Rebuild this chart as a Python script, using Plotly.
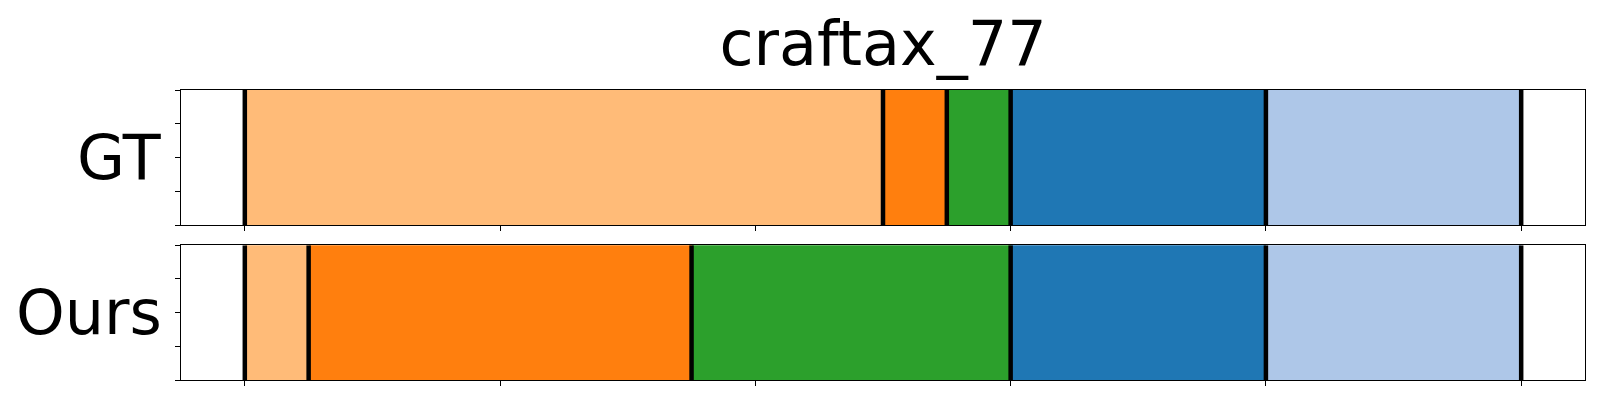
import plotly.graph_objects as go
from plotly.subplots import make_subplots

title_text = "craftax_77"
row_labels = ["GT", "Ours"]
segment_colors = ["#ffbb78", "#ff7f0e", "#2ca02c", "#1f77b4", "#aec7e8"]
gt_bounds = [0, 250, 275, 300, 400, 500]
ours_bounds = [0, 25, 175, 300, 400, 500]
x_ticks = [0, 100, 200, 300, 400, 500]
y_ticks = [0, 0.25, 0.5, 0.75, 1.0]

fig = make_subplots(rows=2, cols=1, vertical_spacing=0.0)

for row, bounds in enumerate([gt_bounds, ours_bounds], start=1):
    for i in range(len(bounds) - 1):
        fig.add_trace(go.Bar(
            orientation="h", y=[0.5], x=[bounds[i + 1] - bounds[i]], base=[bounds[i]],
            width=[1.0], marker=dict(color=segment_colors[i], line=dict(width=0)),
            showlegend=False, hoverinfo="skip"), row=row, col=1)
    lx, ly = [], []
    for b in bounds:
        lx += [b, b, None]
        ly += [0, 1, None]
    fig.add_trace(go.Scatter(x=lx, y=ly, mode="lines", line=dict(color="black", width=4.5),
                             showlegend=False, hoverinfo="skip"), row=row, col=1)

axis_common = dict(showline=True, linecolor="black", linewidth=1, mirror=True,
                   ticks="outside", ticklen=5, tickwidth=1, tickcolor="black",
                   showticklabels=False, showgrid=False, zeroline=False)

fig.update_xaxes(range=[-25, 525], tickvals=x_ticks, **axis_common)
fig.update_yaxes(range=[0, 1], tickvals=y_ticks, **axis_common)

fig.update_layout(
    xaxis=dict(domain=[0, 1]), xaxis2=dict(domain=[0, 1]),
    yaxis=dict(domain=[0.5345, 1.0]), yaxis2=dict(domain=[0.0, 0.4645]),
    barmode="overlay", bargap=0,
    width=1600, height=400,
    margin=dict(l=173, r=23, t=82, b=28),
    paper_bgcolor="white", plot_bgcolor="white",
    font=dict(family="DejaVu Sans", color="black"),
    title=dict(text=title_text, x=0.5, xref="paper", y=1 - 35 / 400, yref="container",
               xanchor="center", yanchor="middle", font=dict(size=62, family="DejaVu Sans", color="black")),
)

for label, yc in zip(row_labels, [(0.5345 + 1.0) / 2, 0.4645 / 2]):
    fig.add_annotation(text=label, xref="paper", yref="paper", x=0, y=yc,
                       xanchor="right", yanchor="middle", xshift=-17, showarrow=False,
                       font=dict(size=62, family="DejaVu Sans", color="black"))

fig.write_html("out.html")
